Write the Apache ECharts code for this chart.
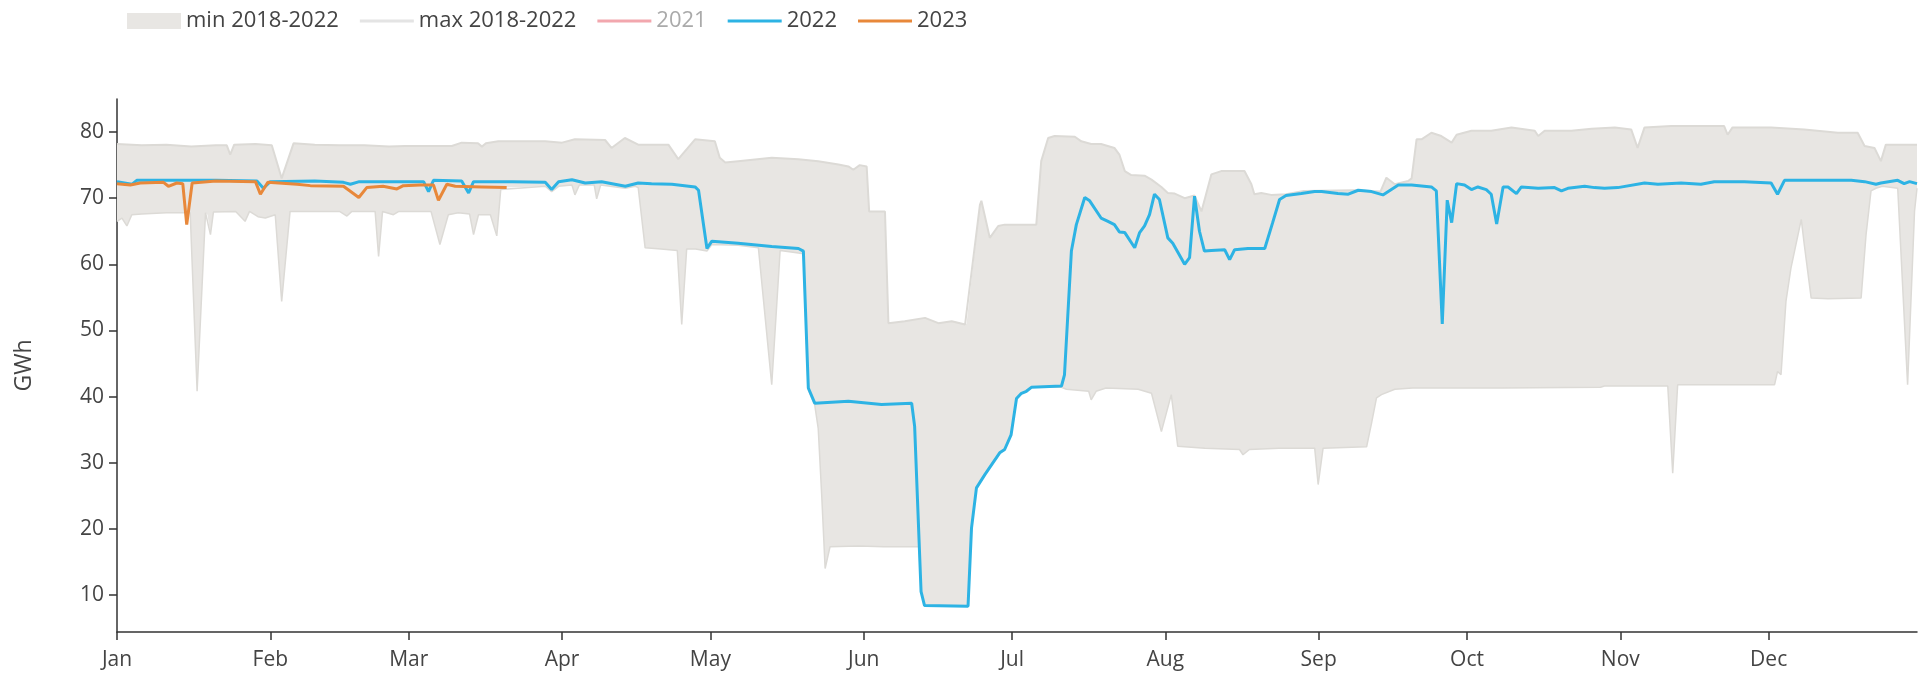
<!DOCTYPE html>
<html><head><meta charset="utf-8">
<script src="https://cdn.jsdelivr.net/npm/echarts@6/dist/echarts.min.js"></script>
<style>html,body{margin:0;padding:0;background:#fff}#chart{width:1925px;height:684px}</style>
</head><body><div id="chart"></div>
<script>
// ---- data (day of year, 0 = 1 Jan) ----
const monthLabels = ['Jan','Feb','Mar','Apr','May','Jun','Jul','Aug','Sep','Oct','Nov','Dec'];
const monthStartDays = [0,31,59,90,120,151,181,212,243,273,304,334];
const yTicks = [10,20,30,40,50,60,70,80];

const days2022 = [0,3,4,10,20,28.3,29.6,31,40,45.8,47.2,49,58,62,63,64,69.7,71.1,72.1,80,86.6,87.9,89.3,92,94.7,98,102.8,105.4,108.1,112.2,116.9,117.6,119.3,120.3,125.6,132.4,137.8,138.8,139.8,141.1,147.9,154.6,160.7,161.3,162.6,163.3,172.1,172.8,173.8,175.5,178.5,179.5,180.8,181.9,182.9,183.9,184.9,191.0,191.6,193.0,194.0,195.7,196.7,199.0,200.4,201.7,202.7,203.8,205.8,206.8,207.8,208.8,209.8,210.8,212.5,213.5,215.9,216.9,217.9,218.9,219.9,221.3,224.0,225.0,226.0,228.7,232.1,233.7,235.1,236.4,239.5,242.2,243.6,246.9,249.0,251.0,253.7,256.0,259.1,261.8,265.8,266.8,268.0,269.0,269.9,270.9,272.5,273.9,275.2,276.9,277.9,279.0,280.3,281.3,283.0,284.0,287.4,290.7,292.1,293.4,296.8,298.8,300.8,303.5,308.9,311.6,316.3,320.3,323.0,329.1,334.5,335.8,337.2,341.2,350.7,353.4,355.7,356.7,360.1,361.4,362.5,364];
const vals2022 = [72.5,72.1,72.7,72.7,72.7,72.6,71.5,72.5,72.6,72.4,72.1,72.5,72.5,72.5,71.0,72.7,72.6,70.8,72.5,72.5,72.4,71.3,72.5,72.8,72.3,72.5,71.8,72.3,72.2,72.1,71.7,71.2,62.4,63.5,63.2,62.7,62.4,62.0,41.3,39.0,39.3,38.8,39.0,35.5,10.5,8.4,8.3,20.1,26.2,28.2,31.5,32.0,34.2,39.7,40.5,40.8,41.4,41.6,43.3,62.0,66.0,70.1,69.6,67.0,66.5,66.0,64.9,64.8,62.5,64.8,65.8,67.5,70.6,69.8,64.0,63.2,60.0,61.0,70.3,65.0,62.0,62.1,62.2,60.7,62.2,62.4,62.4,66.3,69.8,70.4,70.7,71.0,71.0,70.7,70.6,71.2,71.0,70.5,72.0,72.0,71.7,71.1,51.0,69.7,66.3,72.2,72.0,71.3,71.7,71.3,70.6,66.1,71.7,71.7,70.7,71.7,71.5,71.6,71.1,71.5,71.8,71.6,71.5,71.6,72.3,72.1,72.3,72.1,72.5,72.5,72.3,70.6,72.7,72.7,72.7,72.5,72.1,72.3,72.7,72.2,72.5,72.2];

const days2023 = [0,2.7,4.7,9.4,10.4,12.1,13.3,14.1,15.2,20,28,29,30.5,36.4,39.1,45.8,48.9,50.5,53.8,56.6,57.9,61.3,64.0,65.0,66.7,68.4,73.8,78.8];
const vals2023 = [72.2,72.0,72.3,72.4,71.8,72.3,72.2,66.0,72.3,72.6,72.5,70.6,72.4,72.1,71.9,71.8,70.1,71.6,71.8,71.4,71.9,72.0,72.0,69.7,72.1,71.8,71.7,71.6];

const daysMax = [0,5,10,15,20,22.2,22.9,23.7,28,31.3,33.3,35.7,40,45,50,55,58.3,67.7,69.7,73.0,73.8,74.6,77.1,86.6,90.0,92.6,98.7,100.0,102.7,105.4,111.5,113.5,116.9,120.9,121.9,123.0,125.6,132.4,137.8,141.8,145.9,147.9,148.9,150.2,151.6,152.1,155.3,156.0,159.3,163.4,166.1,168.8,171.5,171.8,174.5,174.8,176.5,178.2,179.5,185.9,186.9,188.3,189.6,193.7,195.0,197,199,201.7,202.7,203.8,205.1,207.8,209.2,211.2,212.5,213.9,215.9,217.9,219.3,221.3,223.3,228.0,229.4,230.0,231.4,233.4,236.4,240,250,255.5,256.7,258.4,261.1,261.8,262.8,263.8,265.8,267.8,269.9,270.9,273.9,277.9,282.0,286.7,287.4,288.7,294.1,298.2,302.9,306.2,307.5,308.9,314.3,325.0,325.7,326.7,334.5,341.2,348,352.0,353.4,355.4,356.7,357.7,364];
const valsMax = [78.2,78.0,78.1,77.8,78.0,78.0,76.6,78.1,78.2,78.0,73.0,78.3,78.1,78.0,78.0,77.8,77.9,77.9,78.4,78.3,77.8,78.3,78.6,78.6,78.4,78.9,78.8,77.6,79.1,78.1,78.1,75.9,78.9,78.6,76.1,75.4,75.6,76.1,75.9,75.6,75.1,74.8,74.3,75.0,74.8,68.0,68.0,51.1,51.4,51.9,51.1,51.4,50.9,51.0,69.0,69.6,64.0,65.8,66.0,66.0,75.6,79.1,79.4,79.3,78.6,78.2,78.2,77.6,76.6,74.1,73.5,73.4,72.8,71.7,70.8,70.7,70.0,70.4,68.0,73.6,74.1,74.1,72.1,70.6,70.8,70.5,70.6,71.1,71.2,71.0,73.1,72.1,72.6,73.0,78.9,78.9,79.9,79.4,78.4,79.6,80.2,80.2,80.7,80.2,79.4,80.2,80.2,80.5,80.7,80.4,77.6,80.7,80.9,80.9,79.6,80.7,80.7,80.4,79.9,79.9,77.9,77.6,75.6,78.1,78.1];

const daysMin = [0,1,2,3,5,10,14.8,16.2,17.9,18.3,18.9,19.5,24,25.9,26.8,28.5,30,32.0,33.3,35.0,45,46.5,47.5,52.2,52.9,53.7,55.9,57,63.5,65.3,67.0,69.0,71.3,72.1,73.1,75.5,76.8,77.6,78,86.6,87.9,89.3,92.0,92.6,93.5,96.5,97.0,97.8,102.8,104.8,105.4,106.8,110,113.3,114.2,115.2,117,119.3,120.3,125.6,129.7,132.4,134.1,137.8,138.8,139.8,141.1,141.8,142.5,143.2,144.2,150,155,161.3,162.2,162.6,163.3,172.1,172.8,173.8,175.5,178.5,179.5,180.8,181.9,182.9,183.9,184.9,191.0,192,196.5,197.0,198.0,200,206.5,209.2,211.2,213.2,214.5,220,227.0,227.7,229,235,240,242.2,242.9,243.9,252.7,253.7,254.7,255.7,258.4,262,280,300,300.8,313.6,314.6,315.6,335.2,335.8,336.5,337.5,338.5,340.6,341.2,342.6,346,352.7,353.7,354.7,355.7,357,360.1,362.1,363.5,364];
const valsMin = [66.5,67.0,65.8,67.5,67.6,67.8,67.8,40.8,67.8,67.5,64.5,67.9,68.0,66.5,68.0,67.2,67.0,67.5,54.4,68.0,68.0,67.3,68.0,68.0,61.2,68.0,67.5,68.0,68.0,63.0,67.5,67.8,67.6,64.5,67.5,67.5,64.3,71.3,71.6,71.8,71.0,71.8,72.0,70.5,72.0,72.0,69.9,72.0,71.5,71.8,71.6,62.5,62.3,62.1,50.9,62.3,62.3,62.0,63.0,62.9,62.5,41.8,62.1,61.7,61.6,41.0,38.7,35.2,25.2,14.0,17.3,17.4,17.3,17.3,17.3,10.5,8.4,8.3,20.1,26.2,28.2,31.5,32.0,34.2,39.7,40.5,40.8,41.4,41.4,41.1,40.8,39.5,40.8,41.3,41.1,40.5,34.7,40.3,32.5,32.2,32.0,31.2,32.0,32.2,32.2,32.2,26.7,32.2,32.4,36.0,39.8,40.3,41.1,41.3,41.3,41.4,41.6,41.6,28.4,41.8,41.8,43.8,43.3,54.4,59.4,66.8,63.0,54.9,54.8,54.9,64.5,71.1,71.5,71.8,71.5,41.8,68,71.5];

const zip = (d, v) => d.map((x, i) => [x, v[i]]);

const FONT = 'Open Sans';
const TXT = '#444';
const BAND = '#e8e6e3';
const EDGE = '#dcdad6';
const LINE_ICON = 'path://M0,0H54V3.2H0Z';

const chart = echarts.init(document.getElementById('chart'), null, {renderer: 'canvas'});
chart.setOption({
  animation: false,
  backgroundColor: '#fff',
  textStyle: {fontFamily: FONT},
  legend: {
    left: 122, top: 5,
    itemWidth: 54, itemHeight: 16, itemGap: 21,
    symbolKeepAspect: true,
    textStyle: {fontFamily: FONT, fontSize: 22, color: TXT},
    data: [
      {name: 'min 2018-2022', icon: 'rect', itemStyle: {color: BAND}},
      {name: 'max 2018-2022', icon: LINE_ICON, itemStyle: {color: '#e4e4e4'}},
      {name: '2021', icon: LINE_ICON, itemStyle: {color: '#f2a7ae'}, textStyle: {color: '#aaaaaa'}},
      {name: '2022', icon: LINE_ICON, itemStyle: {color: '#2db3e4'}},
      {name: '2023', icon: LINE_ICON, itemStyle: {color: '#e8883a'}}
    ]
  },
  grid: {left: 117, right: 8, top: 99, bottom: 52, containLabel: false},
  xAxis: {
    type: 'value', min: 0, max: 364,
    axisLine: {show: true, lineStyle: {color: '#333', width: 1.5}},
    axisTick: {show: true, length: 8, customValues: monthStartDays, lineStyle: {color: '#333', width: 1.5}},
    axisLabel: {customValues: monthStartDays, margin: 18, fontFamily: FONT, fontSize: 21, color: TXT,
      formatter: v => monthLabels[monthStartDays.indexOf(v)] || ''},
    splitLine: {show: false}
  },
  yAxis: {
    type: 'value', min: 4.4, max: 85,
    name: 'GWh', nameLocation: 'middle', nameGap: 81, nameRotate: 90,
    nameTextStyle: {fontFamily: FONT, fontSize: 23, color: TXT},
    axisLine: {show: true, lineStyle: {color: '#333', width: 1.5}},
    axisTick: {show: true, length: 8, customValues: yTicks, lineStyle: {color: '#333', width: 1.5}},
    axisLabel: {customValues: yTicks, margin: 13, fontFamily: FONT, fontSize: 21, color: TXT},
    splitLine: {show: false}
  },
  series: [
    {
      name: 'min 2018-2022', type: 'custom', z: 1, silent: true,
      itemStyle: {color: BAND},
      data: [[0, 40]],
      encode: {x: 0, y: 1},
      renderItem: function (params, api) {
        const pts = [];
        for (let i = 0; i < daysMax.length; i++) pts.push(api.coord([daysMax[i], valsMax[i]]));
        for (let i = daysMin.length - 1; i >= 0; i--) pts.push(api.coord([daysMin[i], valsMin[i]]));
        return {type: 'polygon', shape: {points: pts}, style: {fill: BAND}};
      }
    },
    {
      name: 'min 2018-2022', type: 'line', z: 2, silent: true, symbol: 'none',
      lineStyle: {color: EDGE, width: 1.5}, itemStyle: {color: BAND},
      data: zip(daysMin, valsMin)
    },
    {
      name: 'max 2018-2022', type: 'line', z: 2, silent: true, symbol: 'none',
      lineStyle: {color: EDGE, width: 2}, itemStyle: {color: '#e4e4e4'},
      data: zip(daysMax, valsMax)
    },
    {
      name: '2021', type: 'line', z: 3, symbol: 'none',
      lineStyle: {color: '#f2a7ae', width: 3}, itemStyle: {color: '#f2a7ae'},
      data: []
    },
    {
      name: '2022', type: 'line', z: 4, symbol: 'none',
      lineStyle: {color: '#2db3e4', width: 3}, itemStyle: {color: '#2db3e4'},
      data: zip(days2022, vals2022)
    },
    {
      name: '2023', type: 'line', z: 5, symbol: 'none',
      lineStyle: {color: '#e8883a', width: 3}, itemStyle: {color: '#e8883a'},
      data: zip(days2023, vals2023)
    }
  ]
});
</script>
</body></html>
